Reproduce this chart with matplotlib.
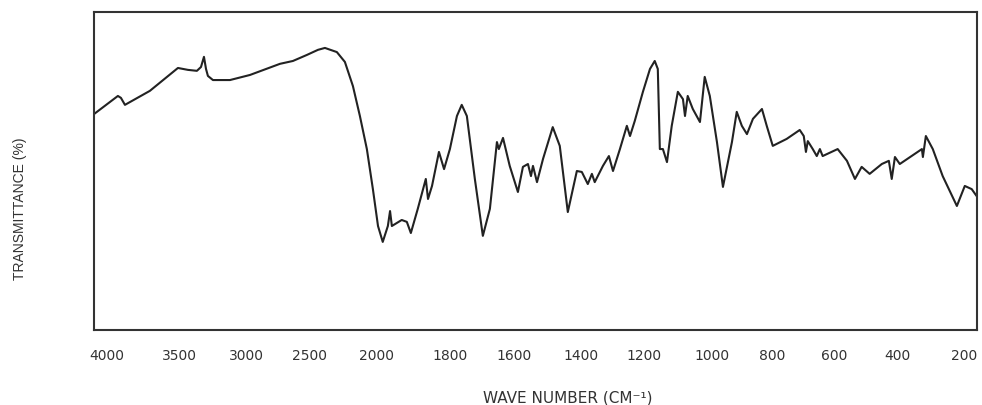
import numpy as np
import matplotlib
matplotlib.use("Agg")
import matplotlib.pyplot as plt

# Axis labels as printed (the scale changes at 2000)
tick_wn = np.array([4000, 3500, 3000, 2500, 2000, 1800, 1600, 1400, 1200, 1000, 800, 600, 400, 200])
# where each label sits along the axis (same units as the figure width in px)
tick_pos = np.array([107, 179, 247, 310, 377, 450, 514, 581, 644, 712, 772, 834, 898, 964], float)

# Spectrum
wavenumber = [
    4090, 3924, 3903, 3875, 3702, 3507, 3434, 3368, 3338, 3316, 3301, 3287, 3250, 3125,
    2976, 2738, 2635, 2524, 2440, 2388, 2299, 2239, 2179, 2127, 2075, 2030, 1997, 1984,
    1970, 1964, 1959, 1932, 1918, 1907, 1888, 1866, 1860, 1849, 1830, 1816, 1800, 1778,
    1763, 1747, 1722, 1697, 1675, 1653, 1647, 1634, 1613, 1588, 1573, 1558, 1549, 1543,
    1531, 1513, 1484, 1463, 1439, 1412, 1397, 1378, 1365, 1356, 1330, 1311, 1298, 1276,
    1254, 1244, 1229, 1203, 1182, 1168, 1159, 1153, 1144, 1132, 1118, 1100, 1085, 1079,
    1071, 1056, 1035, 1021, 1006, 983, 963, 933, 917, 900, 883, 863, 833, 817, 797, 752,
    710, 697, 690, 684, 668, 655, 645, 636, 588, 559, 534, 513, 488, 450, 428, 419, 409,
    394, 327, 324, 315, 294, 264, 221, 197, 176, 161,
]
transmittance = [
    67.9, 73.6, 73.0, 70.8, 75.2, 82.4, 81.8, 81.5, 82.7, 85.9, 82.1, 79.9, 78.6, 78.6,
    80.2, 83.7, 84.6, 86.5, 88.1, 88.7, 87.4, 84.3, 76.7, 67.3, 56.9, 44.3, 32.7, 27.7,
    32.7, 37.4, 32.7, 34.6, 34.0, 30.5, 38.1, 47.5, 41.2, 45.3, 56.0, 50.6, 56.9, 67.3,
    70.8, 67.3, 47.5, 29.6, 38.1, 59.1, 56.9, 60.4, 51.6, 43.4, 51.3, 52.2, 48.4, 51.6,
    46.5, 53.8, 63.8, 57.9, 37.1, 50.0, 49.7, 45.9, 49.1, 46.5, 51.6, 54.7, 50.0, 56.9,
    64.2, 61.0, 65.7, 74.9, 82.1, 84.6, 82.1, 56.9, 56.9, 52.8, 64.2, 74.9, 72.6, 67.3,
    73.6, 69.5, 65.4, 79.6, 73.6, 59.1, 45.0, 59.1, 68.6, 64.2, 61.6, 66.4, 69.5, 64.2, 57.9, 60.1,
    62.9, 61.0, 56.0, 59.4, 56.9, 54.7, 56.9, 54.7, 56.9, 53.2, 47.5, 51.3, 49.1, 52.2, 53.2, 47.5, 54.4,
    52.2, 56.9, 54.4, 61.0, 56.9, 48.4, 39.0, 45.3, 44.3, 42.1,
]

# extend the label mapping so the scale works past the first/last label
ext_wn = np.concatenate([[10000], tick_wn, [-1000]])
ext_pos = np.concatenate([[107 - 6000 * 72 / 500], tick_pos, [964 + 1200 * 66 / 200]])


# increasing in wavenumber (negated position), axis is then inverted by xlim
def fwd(w):
    return -np.interp(-np.asarray(w, float), -ext_wn, ext_pos)


def inv(p):
    return np.interp(-np.asarray(p, float), ext_pos, ext_wn)


fig = plt.figure(figsize=(9.82, 4.06), dpi=100)
ax = fig.add_axes([94 / 982, 1 - 331 / 406, (977 - 94) / 982, (331 - 13) / 406])

ax.set_xscale("function", functions=(fwd, inv))
ax.plot(wavenumber, transmittance, color="#222222", lw=1.5,
        solid_joinstyle="round", solid_capstyle="round")
ax.set_xlim(4090, 160)
ax.set_ylim(0, 100)

ax.set_xticks(tick_wn)
ax.set_xticklabels([str(t) for t in tick_wn])
ax.set_yticks([])
ax.tick_params(axis="x", length=0, pad=13, labelsize=10, labelcolor="#333333")
for s in ax.spines.values():
    s.set_color("#333333")
    s.set_linewidth(1.5)

fig.text(568 / 982, 1 - 398 / 406, "WAVE NUMBER (CM⁻¹)", ha="center", va="center",
         fontsize=11, color="#333333")
fig.text(20 / 982, 1 - 209 / 406, "TRANSMITTANCE (%)", ha="center", va="center",
         rotation=90, fontsize=10, color="#333333", family="Liberation Sans")

fig.savefig("out.png", dpi=100)
